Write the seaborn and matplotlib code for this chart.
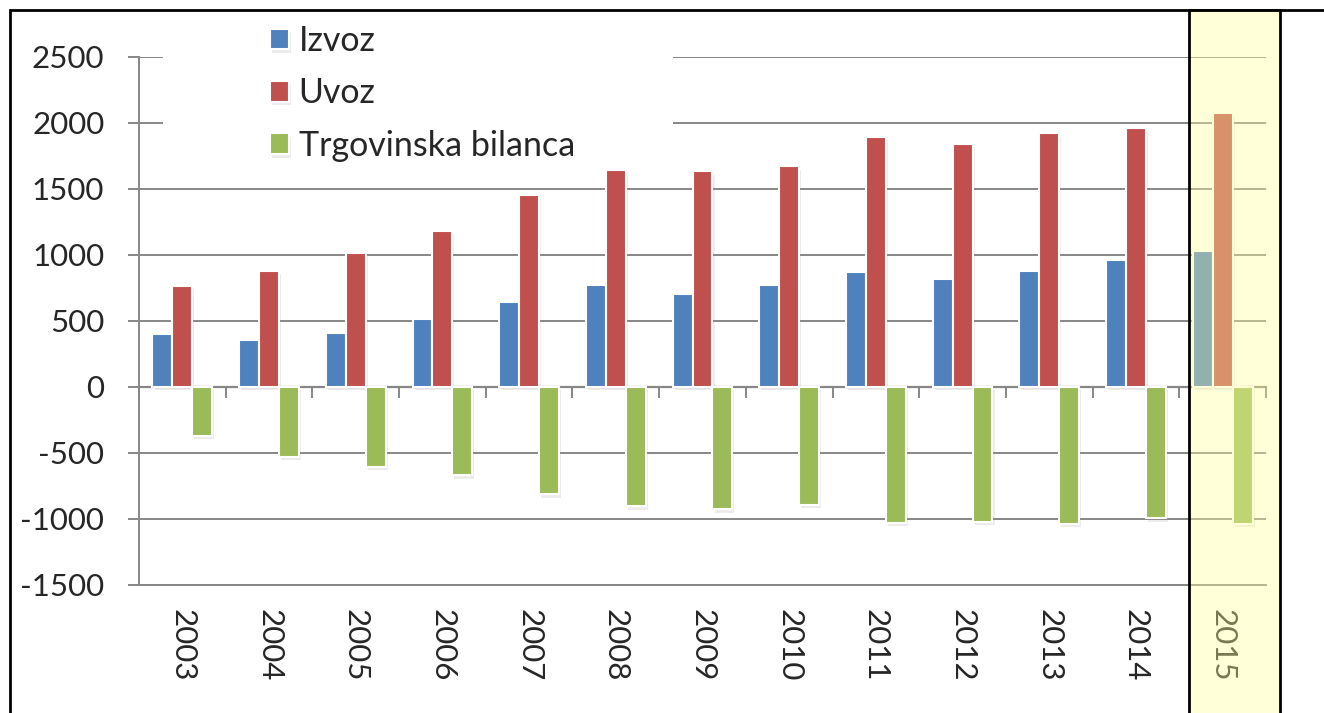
import numpy as np
import pandas as pd
import matplotlib
matplotlib.use("Agg")
import matplotlib.pyplot as plt
import matplotlib.patheffects as pe
from matplotlib.patches import Rectangle
from matplotlib.transforms import blended_transform_factory
import seaborn as sns

# Podaci (mil. EUR, procjena s grafikona)
godine = ['2003', '2004', '2005', '2006', '2007', '2008', '2009',
          '2010', '2011', '2012', '2013', '2014', '2015']
izvoz = [399, 354, 409, 515, 641, 773, 702, 773, 869, 818, 879, 960, 1033]
uvoz = [765, 881, 1015, 1182, 1452, 1646, 1634, 1672, 1896, 1843, 1924, 1959, 2076]
bilanca = [-369, -530, -604, -667, -811, -902, -927, -894, -1028, -1020, -1038, -995, -1038]
serije = ['Izvoz', 'Uvoz', 'Trgovinska bilanca']
boje = ['#4F81BD', '#C0504D', '#9BBB59']
y_ticks = [-1500, -1000, -500, 0, 500, 1000, 1500, 2000, 2500]

df = pd.DataFrame({
    'godina': godine * 3,
    'vrijednost': izvoz + uvoz + bilanca,
    'serija': [s for s in serije for _ in godine],
})

sns.set_style('white')
plt.rcParams['font.family'] = ['Lato', 'DejaVu Sans']
plt.rcParams['axes.unicode_minus'] = False

fig = plt.figure(figsize=(13.24, 7.13), dpi=100)
ax = fig.add_axes([139 / 1324, 1 - 585 / 713, 1127 / 1324, 528 / 713])

sns.barplot(data=df, x='godina', y='vrijednost', hue='serija',
            order=godine, hue_order=serije, palette=boje, saturation=1,
            width=0.69, edgecolor='white', linewidth=1.5, ax=ax)

# blage sjene ispod stupaca
for bar in ax.patches:
    bar.set_path_effects([pe.SimplePatchShadow(offset=(1.5, -2.5), shadow_rgbFace='gray', alpha=0.15),
                          pe.Normal()])

grid_col = '#878787'
ax.set_xlim(-0.5, len(godine) - 0.5)
ax.set_ylim(-1500, 2500)
ax.set_yticks(y_ticks)
ax.yaxis.grid(True, color=grid_col, linewidth=1.4)
ax.set_axisbelow(True)
for s in ['top', 'right']:
    ax.spines[s].set_visible(False)
ax.spines['left'].set_color(grid_col)
ax.spines['left'].set_linewidth(1.4)
ax.spines['bottom'].set_color(grid_col)
ax.spines['bottom'].set_linewidth(1.4)
ax.tick_params(axis='y', which='both', left=True, length=8, width=1.4, color=grid_col,
               labelsize=22.5, pad=17)
ax.tick_params(axis='x', bottom=False, labelsize=22.5, pad=14)
for lbl in ax.get_xticklabels():
    lbl.set_rotation(270)
    lbl.set_va('top')
    lbl.set_ha('center')
ax.set_xlabel('')
ax.set_ylabel('')

# os na nuli s oznakama između kategorija
nula = ax.secondary_xaxis(1500 / 4000)
nula.set_xticks(np.arange(-0.5, len(godine)))
nula.set_xticklabels([])
nula.tick_params(direction='out', length=8, width=1.4, color=grid_col)
nula.spines['bottom'].set_color(grid_col)
nula.spines['bottom'].set_linewidth(1.6)

# legenda s bijelom podlogom
ax.add_patch(Rectangle((24 / 1127, 0.79), 510 / 1127, 0.35, transform=ax.transAxes,
                       facecolor='white', edgecolor='none', zorder=0.8, clip_on=False))
handles, labels = ax.get_legend_handles_labels()
ax.legend(handles, labels, loc='upper left', bbox_to_anchor=(270 / 1324, 1 - 25 / 713),
          bbox_transform=fig.transFigure, frameon=False, fontsize=24.5,
          handlelength=0.56, handleheight=0.56, handletextpad=0.28,
          labelspacing=0.6, borderpad=0, borderaxespad=0)

# okvir
fig.add_artist(Rectangle((10 / 1324, -0.1), 1.2, 1.1 - 10 / 713, transform=fig.transFigure,
                         facecolor='none', edgecolor='black', linewidth=2, zorder=10))

# istaknuta 2015.
trans = blended_transform_factory(ax.transData, fig.transFigure)
fig.add_artist(Rectangle((11.61, -0.1), 1.05, 1.1 - 10 / 713, transform=trans,
                         facecolor=(1, 1, 0.6, 0.38), edgecolor='black', linewidth=2,
                         zorder=20, clip_on=False))

fig.savefig('out.png', dpi=100)
